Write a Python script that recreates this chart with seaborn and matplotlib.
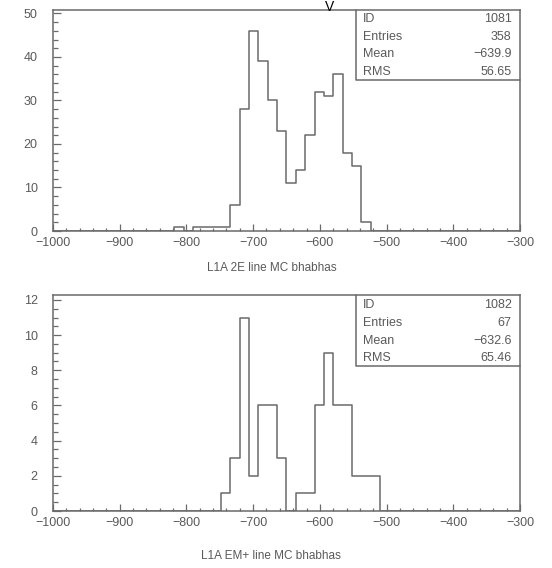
import matplotlib
matplotlib.use('Agg')
import matplotlib.pyplot as plt
import numpy as np
import pandas as pd
import seaborn as sns
from matplotlib.ticker import MultipleLocator


# Data: bin centres (bin width 14, range -1000..-300) and counts
edges = list(np.linspace(-1000, -300, 51))

top_x = [-811, -783, -769, -755, -741, -727, -713, -699, -685, -671,
         -657, -643, -629, -615, -601, -587, -573, -559, -545, -531]
top_n = [1, 1, 1, 1, 1, 6, 28, 46, 39, 30,
         23, 11, 14, 22, 32, 31, 36, 18, 15, 2]

bot_x = [-741, -727, -713, -699, -685, -671, -657, -629, -615,
         -601, -587, -573, -559, -545, -531, -517]
bot_n = [1, 3, 11, 2, 6, 6, 3, 1, 1,
         6, 9, 6, 6, 2, 2, 2]

top_stats = [('ID', '1081'), ('Entries', '358'), ('Mean', '\u2212639.9'), ('RMS', '56.65')]
bot_stats = [('ID', '1082'), ('Entries', '67'), ('Mean', '\u2212632.6'), ('RMS', '65.46')]

top_title = 'L1A 2E line MC bhabhas'
bot_title = 'L1A EM+ line MC bhabhas'


sns.set_style('white')
plt.rcParams['font.family'] = ['Liberation Sans', 'DejaVu Sans']

grey = '#6a6a6a'
txt = '#5a5a5a'
W, H = 552, 568
fig = plt.figure(figsize=(W / 100, H / 100), dpi=100)


def px_axes(left, top, right, bottom):
    return fig.add_axes([left / W, 1 - bottom / H, (right - left) / W, (bottom - top) / H])


def draw(ax, xs, ns, ymax, ymaj, ymin, stats, rows):
    df = pd.DataFrame({'x': xs, 'n': ns})
    sns.histplot(data=df, x='x', weights='n', bins=edges, element='step', fill=False,
                 color=grey, linewidth=1.1, ax=ax)
    ax.set_xlim(-1000, -300)
    ax.set_ylim(0, ymax)
    ax.set_xlabel('')
    ax.set_ylabel('')
    ax.xaxis.set_major_locator(MultipleLocator(100))
    ax.xaxis.set_minor_locator(MultipleLocator(20))
    ax.yaxis.set_major_locator(MultipleLocator(ymaj))
    ax.yaxis.set_minor_locator(MultipleLocator(ymin))
    ax.tick_params(which='both', direction='in', colors=grey, labelcolor=txt,
                   labelsize=9, width=0.9, bottom=True, left=True, top=False, right=False)
    ax.tick_params(axis='x', which='major', length=5, pad=4)
    ax.tick_params(axis='x', which='minor', length=2.5)
    ax.tick_params(axis='y', which='major', length=6, pad=11)
    ax.tick_params(axis='y', which='minor', length=3.5)
    for s in ax.spines.values():
        s.set_color(grey)
        s.set_linewidth(1.1)

    # statistics box
    box_l, box_b = 0.649, rows[-1]
    ax.plot([box_l, box_l, 1], [1, box_b, box_b], transform=ax.transAxes,
            color=grey, linewidth=1.1, clip_on=False)
    for (k, v), yy in zip(stats, rows[:-1]):
        ax.text(box_l + 0.015, yy, k, transform=ax.transAxes, fontsize=9,
                color=txt, va='center', ha='left')
        ax.text(0.982, yy, v, transform=ax.transAxes, fontsize=9,
                color=txt, va='center', ha='right')


ax1 = px_axes(53, 10, 520, 231)
draw(ax1, top_x, top_n, 50.8, 10, 2, top_stats,
     [(231 - y) / 221 for y in (19, 37, 54, 72, 80)])

ax2 = px_axes(53, 295, 520, 511)
draw(ax2, bot_x, bot_n, 12.28, 2, 0.5, bot_stats,
     [(511 - y) / 216 for y in (305, 323, 341, 358, 366)])

fig.text(272 / W, 1 - 268 / H, top_title, ha='center', va='center', fontsize=8.5, color=txt)
fig.text(271 / W, 1 - 556 / H, bot_title, ha='center', va='center', fontsize=8.5, color=txt)
fig.text(330 / W, 1 - 7 / H, 'V', ha='center', va='center', fontsize=10, color='black')

fig.savefig('out.png', dpi=100, facecolor='white')
